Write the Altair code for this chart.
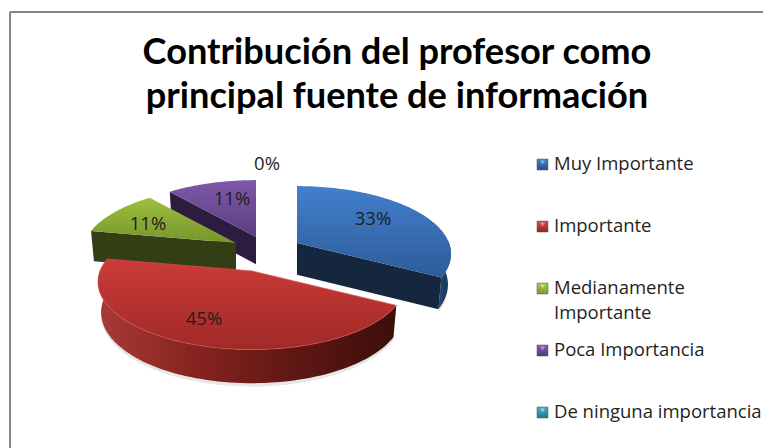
import math
import altair as alt

# ---- data ----
categories = ["Muy Importante", "Importante", "Medianamente\nImportante", "Poca Importancia", "De ninguna importancia"]
percent = [33, 45, 11, 11, 0]
title_lines = ["Contribución del profesor como", "principal fuente de información"]

W, H = 755, 440
OX, OY = 8, 8  # page margin

# pie layout (page pixels)
A, B, P = 152.0, 66.0, 0.16
apex = [(297, 243), (252, 271), (236, 243), (256, 237), (256, 237)]
depth = [30, 30, 31, 30, 30]
top_grad = [("#437fcd", "#2d5c98"), ("#cb3b38", "#a02a27"), ("#9fc03e", "#76952d"), ("#7e59a9", "#5b3d82"), ("#35a0bb", "#2a8099")]
wall_out = [("#234a75", "#16304f"), ("#a83a36", "#85231f", "#5e1713", "#3c0f0b"), None, None, None]
cut_col = ["#14273f", None, "#333e14", "#2b1c40", None]
leg_fill = [("#4a86cf", "#234f86"), ("#d4504c", "#932623"), ("#a9c94e", "#7c9a30"), ("#8561b0", "#523878"), ("#45b0cb", "#22768c")]
leg_tri = ["#7fb0e6", "#ee8d8a", "#cfe388", "#b193d4", "#86d6ea"]


def pt(i, deg, r=1.0, d=0.0):
    t = math.radians(deg)
    u, v = math.sin(t), -math.cos(t)
    den = 1 - P * v
    sh = 1 - 0.02 * (d > 0)
    ax, ay = apex[i]
    return [ax + sh * r * A * u / den - OX, ay + r * B * v / den + d * (1 + 0.12 * v) - OY]


def poly(points):
    ring = [list(p) for p in points] + [list(points[0])]
    return {"type": "Feature", "properties": {}, "geometry": {"type": "Polygon", "coordinates": [ring]}}


def steps(a, b, n=80):
    return [a + (b - a) * k / n for k in range(n + 1)]


def vgrad(c):
    return alt.Gradient(gradient="linear", x1=0, x2=0, y1=0, y2=1, stops=[alt.GradientStop(color=c[0], offset=0), alt.GradientStop(color=c[1], offset=1)])


def hgrad(c):
    n = len(c) - 1
    return alt.Gradient(gradient="linear", x1=0, x2=1, y1=0, y2=0, stops=[alt.GradientStop(color=col, offset=k / n) for k, col in enumerate(c)])


def shape(feature, fill, **kw):
    sw = kw.pop("strokeWidth", 0)
    return alt.Chart(alt.Data(values=[feature])).mark_geoshape(fill=fill, strokeWidth=sw, **kw).project(type="identity", scale=1, translate=[0, 0])


layers = []
# frame
layers.append(alt.Chart(alt.Data(values=[{"a": 1}])).mark_rule(color="#868686", strokeWidth=2).encode(x=alt.value(2), y=alt.value(4), y2=alt.value(H)))
layers.append(alt.Chart(alt.Data(values=[{"a": 1}])).mark_rule(color="#868686", strokeWidth=2).encode(x=alt.value(2), x2=alt.value(W), y=alt.value(4)))

# slice angles from the values
tot = sum(percent)
angles, s = [], 0.0
for p in percent:
    angles.append((s, s + 360.0 * p / tot))
    s += 360.0 * p / tot


def wall_quad(i, deg):
    return poly([pt(i, deg), pt(i, deg, 0), pt(i, deg, 0, depth[i]), pt(i, deg, 1, depth[i])])


def outer_wall(i, a, b, extra=0):
    upper = [pt(i, x) for x in steps(a, b)]
    lower = [pt(i, x, 1, depth[i] + extra) for x in steps(b, a)]
    return poly(upper + lower)


def top(i):
    a, b = angles[i]
    return poly([pt(i, 0, 0)] + [pt(i, x) for x in steps(a, b)])


# back to front: purple, green, blue, red
for i in [3, 2]:
    layers.append(shape(wall_quad(i, angles[i][0]), cut_col[i]))
    layers.append(shape(top(i), vgrad(top_grad[i])))

# blue
layers.append(shape(outer_wall(0, 88, angles[0][1], 3), "#888888", opacity=0.2))
layers.append(shape(wall_quad(0, angles[0][0]), "#1a3352"))
layers.append(shape(outer_wall(0, 88, angles[0][1]), hgrad(wall_out[0])))
layers.append(shape(wall_quad(0, angles[0][1]), cut_col[0]))
layers.append(shape(top(0), vgrad(top_grad[0])))

# red
layers.append(shape(outer_wall(1, angles[1][0], angles[1][1] - 10, 3), "#888888", opacity=0.2))
layers.append(shape(outer_wall(1, angles[1][0], angles[1][1] - 10), hgrad(wall_out[1])))
layers.append(shape(top(1), vgrad(top_grad[1]), stroke="#d2504b", strokeWidth=0.7))

# percentage labels
lab_x = [373, 204, 148, 232, 267]
lab_y = [219, 319, 224, 199, 164]
for i, p in enumerate(percent):
    layers.append(
        alt.Chart(alt.Data(values=[{"t": f"{p}%"}])).mark_text(font="Open Sans", fontSize=18.5, color="#1f1f1f", align="center", baseline="middle")
        .encode(text="t:N", x=alt.value(lab_x[i] - OX), y=alt.value(lab_y[i] - OY))
    )

# title
for k, line in enumerate(title_lines):
    layers.append(
        alt.Chart(alt.Data(values=[{"t": line}])).mark_text(font="Lato", fontWeight="bold", fontSize=36.2, color="#000000", align="center", baseline="alphabetic")
        .encode(text="t:N", x=alt.value(397 - OX), y=alt.value(64 - OY + 44 * k))
    )

# legend
leg_y = [164, 226, 288, 350, 412]
for i, name in enumerate(categories):
    y = leg_y[i] - OY
    layers.append(
        alt.Chart(alt.Data(values=[{"t": name}])).mark_point(shape="square", size=121, filled=True, opacity=1, fill=vgrad(leg_fill[i]), stroke="#555555", strokeWidth=0.5)
        .encode(x=alt.value(542.5 - OX), y=alt.value(y + 0.5))
    )
    layers.append(
        alt.Chart(alt.Data(values=[{"t": name}])).mark_point(shape="triangle-down", size=22, filled=True, opacity=1, color=leg_tri[i])
        .encode(x=alt.value(542.5 - OX), y=alt.value(y - 1.5))
    )
    layers.append(
        alt.Chart(alt.Data(values=[{"t": name}])).mark_text(font="Open Sans", fontSize=18.5, color="#1f1f1f", align="left", baseline="middle", lineBreak="\n", lineHeight=25)
        .encode(text="t:N", x=alt.value(554 - OX), y=alt.value(y))
    )

chart = (
    alt.layer(*layers)
    .properties(width=W, height=H, padding=0, autosize=alt.AutoSizeParams(type="none"), background="#ffffff")
    .configure_view(stroke=None)
)
chart.save("out.html", embed_options={"renderer": "svg", "actions": False})
